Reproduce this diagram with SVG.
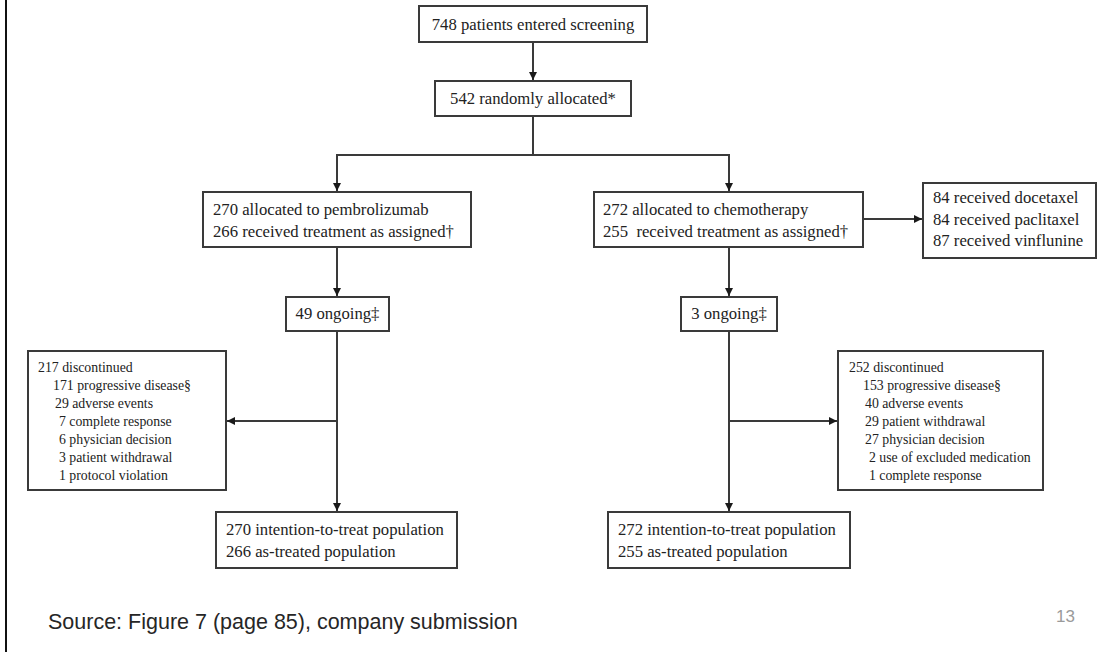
<svg xmlns="http://www.w3.org/2000/svg" width="1117" height="652" viewBox="0 0 1117 652">
  <style>
    .box { fill: #ffffff; stroke: #3a3a3a; stroke-width: 2; }
    .t { font-family: "Liberation Serif", "Times New Roman", serif; font-size: 16.7px; fill: #222; }
    .s { font-family: "Liberation Serif", "Times New Roman", serif; font-size: 13.8px; fill: #222; }
    .c { text-anchor: middle; }
    .link { fill: none; stroke: #3a3a3a; stroke-width: 2; }
    .src { font-family: "Liberation Sans", Arial, sans-serif; font-size: 21.5px; fill: #262626; }
    .pg { font-family: "Liberation Sans", Arial, sans-serif; font-size: 17px; fill: #9a9a9a; }
  </style>
  <defs>
    <marker id="arrow" markerUnits="userSpaceOnUse" markerWidth="9" markerHeight="8" refX="8" refY="4" orient="auto">
      <path d="M0,0 L8,4 L0,8 z" fill="#1a1a1a"/>
    </marker>
  </defs>

  <rect width="1117" height="652" fill="#ffffff"/>
  <!-- slide frame edge -->
  <line x1="6" y1="0" x2="6" y2="652" stroke="#111" stroke-width="2"/>

  <g id="connectors">
    <line class="link" x1="533" y1="42" x2="533" y2="80" marker-end="url(#arrow)"/>
    <polyline class="link" points="533,116 533,155"/>
    <polyline class="link" points="337,191 337,155 729,155 729,191"/>
    <line class="link" x1="337" y1="155" x2="337" y2="191" marker-end="url(#arrow)"/>
    <line class="link" x1="729" y1="155" x2="729" y2="191" marker-end="url(#arrow)"/>
    <line class="link" x1="863" y1="219" x2="922" y2="219" marker-end="url(#arrow)"/>
    <line class="link" x1="337" y1="247" x2="337" y2="296" marker-end="url(#arrow)"/>
    <line class="link" x1="729" y1="247" x2="729" y2="296" marker-end="url(#arrow)"/>
    <line class="link" x1="337" y1="331" x2="337" y2="511" marker-end="url(#arrow)"/>
    <line class="link" x1="729" y1="331" x2="729" y2="511" marker-end="url(#arrow)"/>
    <line class="link" x1="337" y1="421" x2="227" y2="421" marker-end="url(#arrow)"/>
    <line class="link" x1="729" y1="421" x2="837" y2="421" marker-end="url(#arrow)"/>
  </g>

  <g id="screening">
    <rect class="box" x="419" y="6" width="228" height="36"/>
    <text class="t c" x="533" y="30">748 patients entered screening</text>
  </g>

  <g id="randomised">
    <rect class="box" x="435" y="81" width="196" height="35"/>
    <text class="t c" x="533" y="104">542 randomly allocated*</text>
  </g>

  <g id="pembrolizumab">
    <rect class="box" x="203" y="192" width="268" height="55"/>
    <text class="t" x="213" y="215">270 allocated to pembrolizumab</text>
    <text class="t" x="213" y="237">266 received treatment as assigned†</text>
  </g>

  <g id="chemotherapy">
    <rect class="box" x="594" y="192" width="269" height="55"/>
    <text class="t" x="603" y="215">272 allocated to chemotherapy</text>
    <text class="t" x="603" y="237" xml:space="preserve">255  received treatment as assigned†</text>
  </g>

  <g id="chemo-regimens">
    <rect class="box" x="923" y="183" width="173" height="75"/>
    <text class="t" x="933" y="203">84 received docetaxel</text>
    <text class="t" x="933" y="225">84 received paclitaxel</text>
    <text class="t" x="933" y="246">87 received vinflunine</text>
  </g>

  <g id="pembro-ongoing">
    <rect class="box" x="286" y="297" width="103" height="34"/>
    <text class="t c" x="337.5" y="319">49 ongoing‡</text>
  </g>

  <g id="chemo-ongoing">
    <rect class="box" x="681" y="297" width="96" height="34"/>
    <text class="t c" x="729" y="319">3 ongoing‡</text>
  </g>

  <g id="pembro-discontinued">
    <rect class="box" x="28" y="351" width="198" height="139"/>
    <text class="s" x="38" y="372">217 discontinued</text>
    <text class="s" x="53" y="390">171 progressive disease§</text>
    <text class="s" x="55" y="408">29 adverse events</text>
    <text class="s" x="59" y="426">7 complete response</text>
    <text class="s" x="59" y="444">6 physician decision</text>
    <text class="s" x="59" y="462">3 patient withdrawal</text>
    <text class="s" x="59" y="480">1 protocol violation</text>
  </g>

  <g id="chemo-discontinued">
    <rect class="box" x="838" y="351" width="205" height="139"/>
    <text class="s" x="849" y="372">252 discontinued</text>
    <text class="s" x="863" y="390">153 progressive disease§</text>
    <text class="s" x="865" y="408">40 adverse events</text>
    <text class="s" x="865" y="426">29 patient withdrawal</text>
    <text class="s" x="865" y="444">27 physician decision</text>
    <text class="s" x="869" y="462">2 use of excluded medication</text>
    <text class="s" x="869" y="480">1 complete response</text>
  </g>

  <g id="pembro-population">
    <rect class="box" x="216" y="512" width="241" height="56"/>
    <text class="t" x="226" y="535">270 intention-to-treat population</text>
    <text class="t" x="226" y="557">266 as-treated population</text>
  </g>

  <g id="chemo-population">
    <rect class="box" x="608" y="512" width="242" height="56"/>
    <text class="t" x="618" y="535">272 intention-to-treat population</text>
    <text class="t" x="618" y="557">255 as-treated population</text>
  </g>

  <text class="src" x="48" y="629">Source: Figure 7 (page 85), company submission</text>
  <text class="pg" x="1056" y="622">13</text>
</svg>
